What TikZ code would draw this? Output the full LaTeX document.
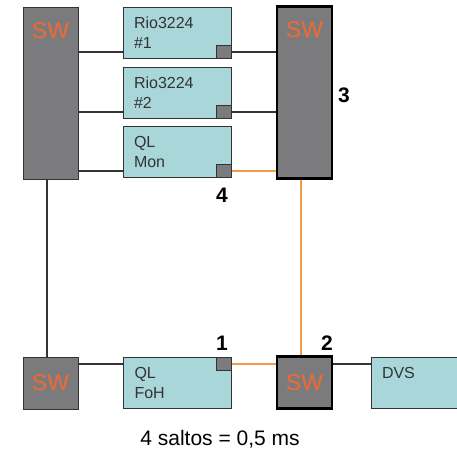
\documentclass[tikz,border=0pt]{standalone}
\usepackage{fontspec}
\setmainfont{Liberation Sans}
\usepackage{tikz}
\usetikzlibrary{positioning}
\definecolor{swgrey}{HTML}{7B7B7E}
\definecolor{devteal}{HTML}{A9D6D9}
\definecolor{swtext}{HTML}{F26A2E}
\definecolor{hoporange}{HTML}{F39A45}
\definecolor{edgegrey}{HTML}{333333}

\begin{document}
\begin{tikzpicture}[x=1pt, y=-1pt,
  swbox/.style={draw=edgegrey, fill=swgrey, line width=1pt, inner sep=0pt,
    minimum width=55pt, text=swtext, font=\fontsize{23}{23}\selectfont},
  swmain/.style={swbox, draw=black, line width=2.6pt},
  devbox/.style={draw=edgegrey, fill=devteal, line width=1pt, minimum width=108pt,
    minimum height=51pt, inner xsep=11pt, text width=86pt, align=left,
    text=black!80, font=\fontsize{16}{20}\selectfont},
  port/.style={draw=edgegrey, fill=swgrey, line width=1pt, inner sep=0pt,
    minimum width=15pt, minimum height=13pt},
  hop/.style={font=\bfseries\fontsize{21}{21}\selectfont},
  link/.style={draw=edgegrey, line width=1.2pt},
  fastlink/.style={draw=hoporange, line width=1.5pt}]
  \useasboundingbox (0,0) rectangle (457,451);

  % Switches
  \node[swbox, minimum height=172pt,
    label={[anchor=north, yshift=-16pt, inner sep=0pt, text=swtext,
      font=\fontsize{23}{23}\selectfont]north:SW}] (swstage) at (50.5,93) {};
  \node[swmain, minimum height=172pt,
    label={[anchor=north, yshift=-16pt, inner sep=0pt, text=swtext,
      font=\fontsize{23}{23}\selectfont]north:SW}] (swcore) at (304.5,92.5) {};
  \node[swbox, minimum height=52pt] (swfoh) at (50.5,383) {SW};
  \node[swmain, minimum height=52pt] (swdesk) at (304.5,382.5) {SW};

  % Devices
  \node[devbox] (rioa) at (177,33) {Rio3224\\\#1};
  \node[devbox] (riob) at (177,93) {Rio3224\\\#2};
  \node[devbox] (qlmon) at (177,152) {QL\\Mon};
  \node[devbox] (qlfoh) at (177.5,383) {QL\\FoH};
  \node[devbox] (dvs) at (425,382.5) {DVS\\\mbox{}};

  % Ports
  \node[port, anchor=south east] (rioap) at (rioa.south east) {};
  \node[port, anchor=south east] (riobp) at (riob.south east) {};
  \node[port, anchor=south east] (qlmonp) at (qlmon.south east) {};
  \node[port, anchor=north east] (qlfohp) at (qlfoh.north east) {};

  % Links
  \draw[link] (swstage.east |- rioap) -- (rioa.west |- rioap);
  \draw[link] (swstage.east |- riobp) -- (riob.west |- riobp);
  \draw[link] (swstage.east |- qlmonp) -- (qlmon.west |- qlmonp);
  \draw[link] (rioap.east) -- (swcore.west |- rioap);
  \draw[link] (riobp.east) -- (swcore.west |- riobp);
  \draw[fastlink] (qlmonp.east) -- (swcore.west |- qlmonp);
  \draw[link] ([xshift=-3.5pt]swstage.south) -- ([xshift=-3.5pt]swfoh.north);
  \draw[fastlink] ([xshift=-3.5pt]swcore.south) -- ([xshift=-3.5pt]swdesk.north);
  \draw[link] (swfoh.east |- qlfohp) -- (qlfoh.west |- qlfohp);
  \draw[fastlink] (qlfohp.east) -- (swdesk.west |- qlfohp);
  \draw[link] (swdesk.east |- qlfohp) -- (dvs.west |- qlfohp);

  % Hop numbers
  \node[hop] (hopa) at (222,343) {1};
  \node[hop] (hopb) at (327,343) {2};
  \node[hop] (hopc) at (344,95) {3};
  \node[hop] (hopd) at (222,195) {4};

  \node[font=\fontsize{21}{21}\selectfont] (caption) at (220,439) {4 saltos = 0,5 ms};
\end{tikzpicture}
\end{document}
